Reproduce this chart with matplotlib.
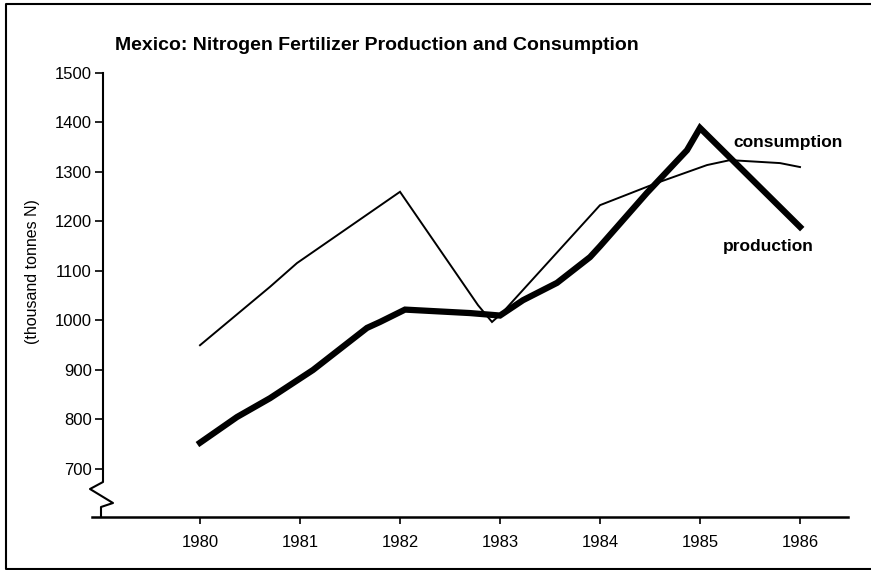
import matplotlib.pyplot as plt
from matplotlib.lines import Line2D

plt.rcParams['font.family'] = ['Liberation Sans', 'DejaVu Sans']

# values (year, thousand tonnes N)
prod_years = [1980, 1980.37, 1980.7, 1981.13, 1981.67, 1981.8, 1982.05, 1982.7,
              1983, 1983.23, 1983.57, 1983.9, 1984.0, 1984.17, 1984.47, 1984.87, 1985, 1986]
prod_vals = [753, 805, 843, 900, 985, 997, 1022, 1015,
             1010, 1041, 1076, 1128, 1150, 1189, 1258, 1344, 1389, 1189]

cons_years = [1980, 1980.7, 1980.97, 1982, 1982.78, 1982.92, 1983.02,
              1984, 1984.57, 1985.07, 1985.3, 1985.8, 1986]
cons_vals = [950, 1068, 1116, 1260, 1031, 997, 1015,
             1233, 1278, 1314, 1324, 1318, 1310]

year_ticks = [1980, 1981, 1982, 1983, 1984, 1985, 1986]
y_ticks = [700, 800, 900, 1000, 1100, 1200, 1300, 1400, 1500]

W, H = 871, 570
fig = plt.figure(figsize=(W / 100, H / 100), dpi=100)


def fx(px):
    return px / W


def fy(py):
    return 1 - py / H


ax = fig.add_axes([fx(103), fy(517), fx(848) - fx(103), fy(73) - fy(517)])

ax.plot(cons_years, cons_vals, color='black', lw=1.4, solid_joinstyle='miter')
ax.plot(prod_years, prod_vals, color='black', lw=4.5, solid_joinstyle='miter')

ax.set_xlim(1979.03, 1986.48)
ax.set_ylim(603, 1500)
ax.set_xticks(year_ticks)
ax.set_yticks(y_ticks)
ax.tick_params(axis='y', direction='out', length=6, width=1.2, pad=2, labelsize=12)
ax.tick_params(axis='x', direction='out', length=5, width=1.2, pad=8, labelsize=12)
for s in ax.spines.values():
    s.set_visible(False)

ax.text(1986.43, 1360, 'consumption', fontsize=12.5, fontweight='bold', ha='right', va='center')
ax.text(1986.14, 1150, 'production', fontsize=12.5, fontweight='bold', ha='right', va='center')

# y axis with break, x axis line
fig.add_artist(Line2D([fx(103), fx(103), fx(90), fx(113), fx(101), fx(101)],
                      [fy(73), fy(482), fy(489), fy(503), fy(507), fy(517)],
                      color='black', lw=1.5))
fig.add_artist(Line2D([fx(92), fx(848)], [fy(517), fy(517)], color='black', lw=1.8))

# frame around the figure (right side cut off)
fig.add_artist(Line2D([fx(871), fx(6), fx(6), fx(871)], [fy(4), fy(4), fy(569), fy(569)],
                      color='black', lw=1.5))

fig.text(fx(115), fy(46), 'Mexico: Nitrogen Fertilizer Production and Consumption',
         fontsize=14, fontweight='bold', ha='left', va='center')
fig.text(fx(33), fy(272), '(thousand tonnes N)', fontsize=11.5, rotation=90,
         ha='center', va='center')

fig.savefig('out.png', dpi=100)
